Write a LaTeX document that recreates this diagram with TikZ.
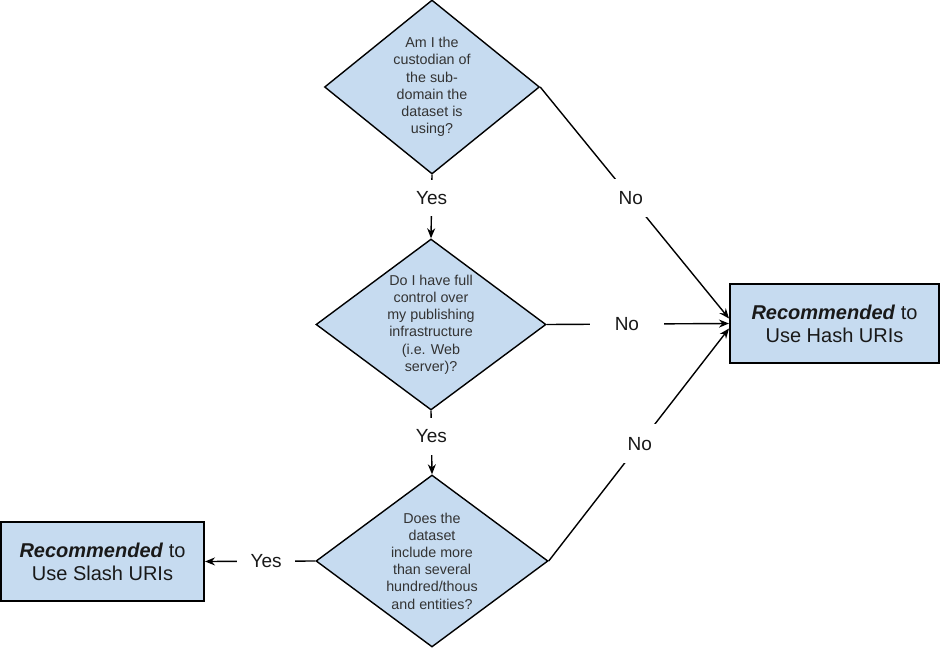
\documentclass[tikz,border=0pt]{standalone}
\usepackage{fontspec}
\setmainfont{Liberation Sans}
\usetikzlibrary{shapes.geometric,arrows.meta}
\definecolor{boxblue}{HTML}{C6DBF0}
\definecolor{txtgray}{HTML}{333333}
\tikzset{
  decision/.style={shape=diamond, draw=black, line width=1.4bp, fill=boxblue,
    align=center, inner sep=0pt, text=txtgray,
    font=\fontsize{14.3bp}{17.2bp}\selectfont},
  result/.style={shape=rectangle, draw=black, line width=2bp, fill=boxblue,
    align=center, inner sep=0pt, text=black!90,
    font=\fontsize{20bp}{23.3bp}\selectfont},
  lbl/.style={fill=white, inner sep=0pt, text=black!90,
    font=\fontsize{19bp}{22bp}\selectfont},
  arr/.style={line width=1.4bp, draw=black, -{Stealth[length=10bp,width=8bp]}}
}
\begin{document}
\begin{tikzpicture}[x=1bp,y=-1bp]
\useasboundingbox (0,0) rectangle (941,649);
\node[decision, aspect=1.24, minimum width=215bp, minimum height=174bp] (d1) at (432,87)
  {Am I the\\custodian of\\the sub-\\domain the\\dataset is\\using?};
\node[decision, aspect=1.34, minimum width=230bp, minimum height=171bp] (d2) at (431,324.5)
  {Do I have full\\control over\\my publishing\\infrastructure\\(i.e. Web\\server)?};
\node[decision, aspect=1.35, minimum width=232bp, minimum height=172bp] (d3) at (432,561)
  {Does the\\dataset\\include more\\than several\\hundred/thous\\and entities?};
\node[result, minimum width=209bp, minimum height=79bp] (hash) at (834.5,323.5)
  {\textbf{\textit{Recommended}} to\\Use Hash URIs};
\node[result, minimum width=203bp, minimum height=79bp] (slash) at (102.5,561.5)
  {\textbf{\textit{Recommended}} to\\Use Slash URIs};
\draw[arr] (d1.south) -- node[lbl, pos=0.37, inner xsep=8bp, inner ysep=11.5bp] {Yes} (d2.north);
\draw[arr] (d2.south) -- node[lbl, pos=0.40, inner xsep=8bp, inner ysep=12bp] {Yes} (d3.north);
\draw[arr] (d1.east) -- node[lbl, pos=0.48, inner xsep=8bp, inner ysep=12bp] {No} ([yshift=5bp]hash.west);
\draw[arr] (d2.east) -- node[lbl, pos=0.44, inner xsep=25bp, inner ysep=8bp] {No} (hash.west);
\draw[arr] (d3.east) -- node[lbl, pos=0.505, inner xsep=8bp, inner ysep=13bp] {No} ([yshift=-5bp]hash.west);
\draw[arr] (d3.west) -- node[lbl, pos=0.446, inner xsep=13.5bp, inner ysep=8bp] {Yes} (slash.east);
\end{tikzpicture}
\end{document}
